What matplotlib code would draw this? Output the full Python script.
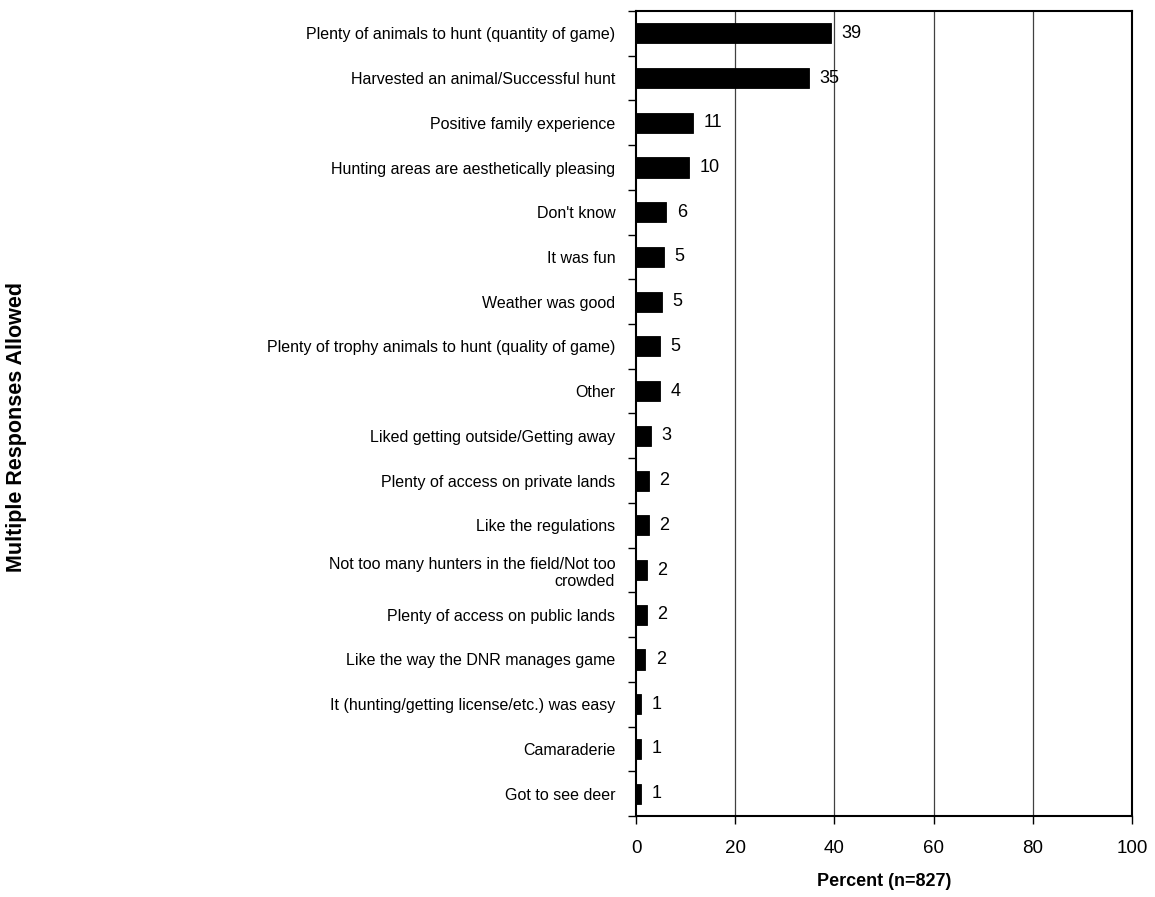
import matplotlib
matplotlib.use("Agg")
import matplotlib.pyplot as plt
import numpy as np

categories = [
    "Plenty of animals to hunt (quantity of game)",
    "Harvested an animal/Successful hunt",
    "Positive family experience",
    "Hunting areas are aesthetically pleasing",
    "Don't know",
    "It was fun",
    "Weather was good",
    "Plenty of trophy animals to hunt (quality of game)",
    "Other",
    "Liked getting outside/Getting away",
    "Plenty of access on private lands",
    "Like the regulations",
    "Not too many hunters in the field/Not too\ncrowded",
    "Plenty of access on public lands",
    "Like the way the DNR manages game",
    "It (hunting/getting license/etc.) was easy",
    "Camaraderie",
    "Got to see deer",
]
values = [39.4, 34.9, 11.5, 10.7, 6.1, 5.6, 5.3, 4.9, 4.8, 3.0,
          2.6, 2.6, 2.2, 2.2, 1.9, 1.0, 1.0, 1.0]
value_labels = ["39", "35", "11", "10", "6", "5", "5", "5", "4", "3",
                "2", "2", "2", "2", "2", "1", "1", "1"]
xticks = [0, 20, 40, 60, 80, 100]

plt.rcParams['font.family'] = ['Liberation Sans', 'DejaVu Sans']

fig = plt.figure(figsize=(11.55, 8.97), dpi=100)
ax = fig.add_axes([636/1155, 1-816/897, 496/1155, 805/897])

n = len(categories)
y = np.arange(n)
ax.barh(y, values, height=0.45, color='black', edgecolor='black', linewidth=0.6, zorder=3)

for yi, v, lab in zip(y, values, value_labels):
    ax.annotate(lab, (v, yi), xytext=(7.5, 0), textcoords='offset points',
                ha='left', va='center', fontsize=13, color='black')

ax.set_xlim(0, 100)
ax.set_ylim(n - 0.5, -0.5)
ax.set_xticks(xticks)
ax.set_xticklabels([str(t) for t in xticks], fontsize=13.5)
ax.tick_params(axis='x', direction='out', length=6, width=1, pad=11, color='black')

# boundary ticks (major) and labels at centers (minor)
ax.set_yticks(np.arange(n + 1) - 0.5)
ax.set_yticklabels([])
ax.tick_params(axis='y', which='major', direction='out', length=6, width=1)
ax.set_yticks(y, minor=True)
ax.set_yticklabels(categories, minor=True, fontsize=11.5)
ax.tick_params(axis='y', which='minor', length=0, pad=15)

for g in [20, 40, 60, 80]:
    ax.axvline(g, color='0.25', linewidth=0.9, zorder=1)

for s in ax.spines.values():
    s.set_color('black')
    s.set_linewidth(1.5)

ax.set_xlabel("Percent (n=827)", fontsize=13, fontweight='bold', labelpad=12)
fig.text(17/1155, 1-427/897, "Multiple Responses Allowed", rotation=90,
         ha='center', va='center', fontsize=15.5, fontweight='bold')

fig.savefig("out.png", dpi=100)
